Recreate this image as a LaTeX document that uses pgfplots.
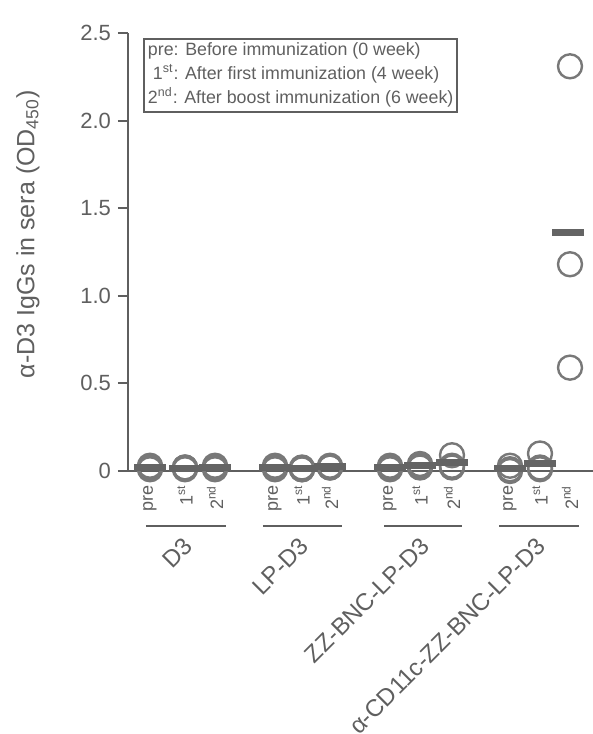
\documentclass[border=0pt]{standalone}
\usepackage{pgfplots}
\pgfplotsset{compat=1.18}
\usepackage{fontspec}
\setmainfont{Liberation Sans}
\definecolor{ink}{RGB}{95,95,95}
\definecolor{mk}{RGB}{120,120,120}
\definecolor{bar}{RGB}{100,100,100}
\newcommand{\sub}[2]{\node[rotate=90, anchor=east, text=ink, font=\fontsize{9}{10}\selectfont, inner sep=0pt] at ([yshift=-7pt]axis cs:#1,0) {#2};}
\newcommand{\grp}[3]{\draw[ink, line width=1pt] ([yshift=-27.5pt]axis cs:#1,0) -- ([yshift=-27.5pt]axis cs:#2,0);
\node[rotate=45, anchor=north east, text=ink, font=\fontsize{12}{14}\selectfont, inner sep=1pt] at ([xshift=-2pt,yshift=-31pt]axis cs:{(#1+#2)/2},0) {#3};}
\begin{document}
\begin{tikzpicture}[x=1pt,y=1pt]
\useasboundingbox (-64pt,-131.5pt) rectangle (232.5pt,235.5pt);
\begin{axis}[
  at={(0,0)}, anchor=origin,
  scale only axis, width=232.5pt, height=219pt,
  xmin=128, xmax=593, ymin=0, ymax=2.5,
  axis lines=left, axis line style={-, ink, line width=1pt},
  clip=false,
  xtick=\empty,
  ytick={0,0.5,1.0,1.5,2.0,2.5},
  yticklabels={0,0.5,1.0,1.5,2.0,2.5},
  tick align=outside, major tick length=5pt,
  tick style={ink, line width=1pt},
  yticklabel style={font=\fontsize{11}{12}\selectfont, text=ink},
  /pgf/number format/assume math mode=true,
  ylabel={α-D3 IgGs in sera (OD\textsubscript{450})},
  ylabel style={font=\fontsize{12.5}{14}\selectfont, text=ink, at={(axis description cs:-0.215,0.54)}, anchor=center, rotate=0},
]
% individual mice
\addplot[only marks, mark=o, mark size=6pt, mark options={draw=mk, line width=1.2pt}] coordinates {
(150,0.02)(150,0.01)(150,0.03)
(185,0.02)(185,0.01)(185,0.02)
(215,0.02)(215,0.03)(215,0.01)
(275,0.02)(275,0.03)(275,0.01)
(302,0.01)(302,0.02)(302,0.01)
(330,0.02)(330,0.03)(330,0.02)
(390,0.02)(390,0.01)(390,0.03)
(420,0.02)(420,0.03)(420,0.04)
(452,0.09)(452,0.03)(452,0.02)
(510,0.03)(510,0.01)(510,0.00)
(540,0.10)(540,0.02)(540,0.01)
(570,2.31)(570,1.18)(570,0.59)
};
% group means
\addplot[only marks, mark=-, mark size=8pt, mark options={draw=bar, line width=3.5pt}] coordinates {
(150,0.02)(185,0.017)(215,0.02)
(275,0.02)(302,0.013)(330,0.023)
(390,0.02)(420,0.03)(452,0.047)
(510,0.013)(540,0.043)(568,1.36)
};
% sub labels
\sub{150}{pre}\sub{185}{1\textsuperscript{st}}\sub{215}{2\textsuperscript{nd}}
\sub{275}{pre}\sub{302}{1\textsuperscript{st}}\sub{330}{2\textsuperscript{nd}}
\sub{390}{pre}\sub{420}{1\textsuperscript{st}}\sub{452}{2\textsuperscript{nd}}
\sub{510}{pre}\sub{540}{1\textsuperscript{st}}\sub{570}{2\textsuperscript{nd}}
% group lines and labels
\grp{146}{226}{D3}
\grp{263}{342}{LP-D3}
\grp{384}{462}{ZZ-BNC-LP-D3}
\grp{499}{579}{α-CD11c-ZZ-BNC-LP-D3}
% legend box
\node[draw=ink, line width=1pt, anchor=north west, align=left, text=ink, font=\fontsize{8.9}{12}\selectfont, inner xsep=2pt, inner ysep=2pt] at ([xshift=7.5pt, yshift=-2.5pt]axis description cs:0,1) {pre: Before immunization (0 week)\\ \ 1\textsuperscript{st}: After first immunization (4 week)\\2\textsuperscript{nd}: After boost immunization (6 week)};
\end{axis}
\end{tikzpicture}
\end{document}
